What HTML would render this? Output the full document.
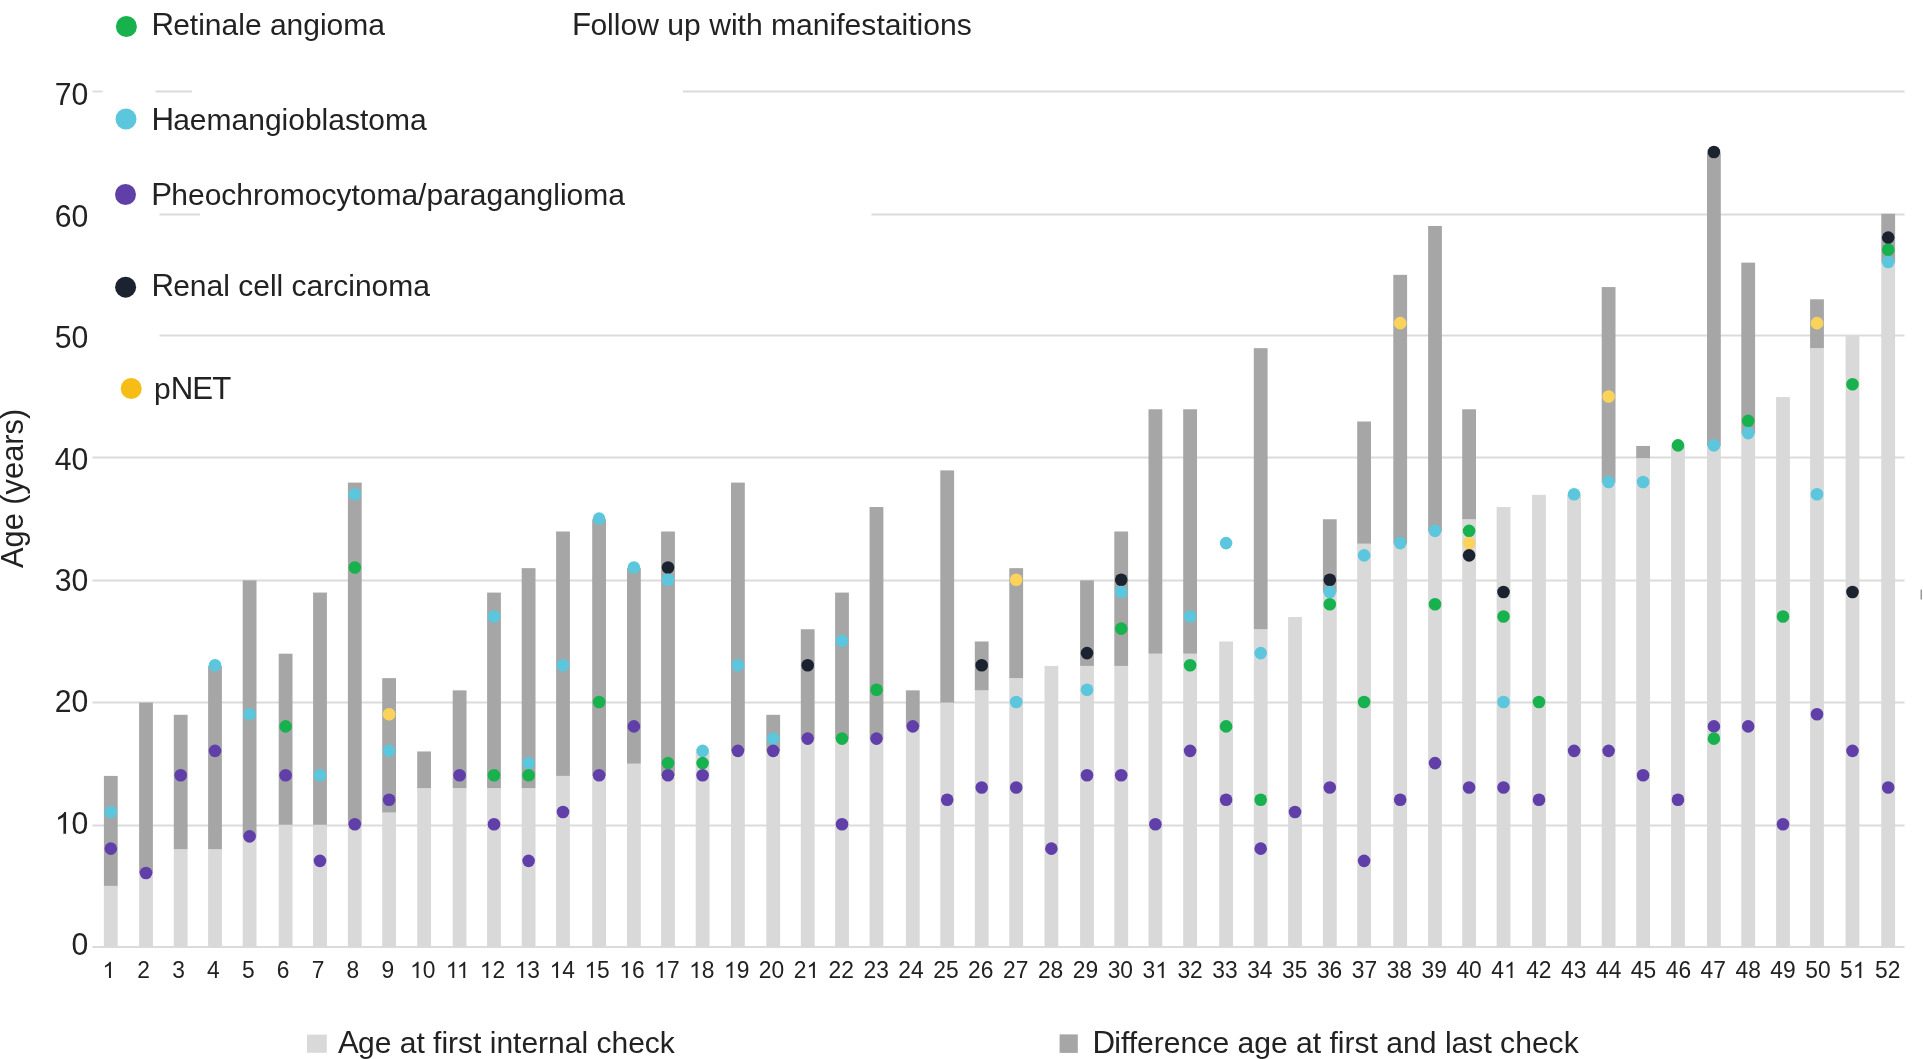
<!DOCTYPE html><html><head><meta charset="utf-8"><title>Follow up with manifestaitions</title><style>html,body{margin:0;padding:0;background:#fff;overflow:hidden;}svg{display:block;will-change:transform;}text{font-family:"Liberation Sans",sans-serif;fill:#222;}</style></head><body>
<svg width="1923" height="1059" viewBox="0 0 1923 1059">
<rect width="1923" height="1059" fill="#fff"/>
<g stroke="#dbdbdb" stroke-width="1.8"><line x1="92.5" y1="947.00" x2="1904.5" y2="947.00"/><line x1="92.5" y1="825.50" x2="1904.5" y2="825.50"/><line x1="92.5" y1="702.50" x2="1904.5" y2="702.50"/><line x1="92.5" y1="580.50" x2="1904.5" y2="580.50"/><line x1="92.5" y1="457.50" x2="1904.5" y2="457.50"/><line x1="159.5" y1="335.50" x2="1904.5" y2="335.50"/><line x1="159.5" y1="214.50" x2="200" y2="214.50"/><line x1="871.5" y1="214.50" x2="1904.5" y2="214.50"/><line x1="92.5" y1="91.50" x2="102.5" y2="91.50"/><line x1="155.5" y1="91.50" x2="192" y2="91.50"/><line x1="683" y1="91.50" x2="1904.5" y2="91.50"/></g>
<rect x="103.90" y="885.89" width="13.8" height="61.11" fill="#d9d9d9"/><rect x="103.90" y="775.91" width="13.8" height="109.99" fill="#a6a6a6"/><rect x="139.10" y="873.67" width="13.8" height="73.33" fill="#d9d9d9"/><rect x="139.10" y="702.58" width="13.8" height="171.09" fill="#a6a6a6"/><rect x="173.80" y="849.23" width="13.8" height="97.77" fill="#d9d9d9"/><rect x="173.80" y="714.80" width="13.8" height="134.43" fill="#a6a6a6"/><rect x="208.10" y="849.23" width="13.8" height="97.77" fill="#d9d9d9"/><rect x="208.10" y="665.92" width="13.8" height="183.32" fill="#a6a6a6"/><rect x="242.70" y="837.01" width="13.8" height="109.99" fill="#d9d9d9"/><rect x="242.70" y="580.37" width="13.8" height="256.64" fill="#a6a6a6"/><rect x="278.70" y="824.79" width="13.8" height="122.21" fill="#d9d9d9"/><rect x="278.70" y="653.70" width="13.8" height="171.09" fill="#a6a6a6"/><rect x="313.10" y="824.79" width="13.8" height="122.21" fill="#d9d9d9"/><rect x="313.10" y="592.59" width="13.8" height="232.20" fill="#a6a6a6"/><rect x="347.90" y="824.79" width="13.8" height="122.21" fill="#d9d9d9"/><rect x="347.90" y="482.60" width="13.8" height="342.19" fill="#a6a6a6"/><rect x="382.20" y="812.57" width="13.8" height="134.43" fill="#d9d9d9"/><rect x="382.20" y="678.14" width="13.8" height="134.43" fill="#a6a6a6"/><rect x="417.20" y="788.13" width="13.8" height="158.87" fill="#d9d9d9"/><rect x="417.20" y="751.46" width="13.8" height="36.66" fill="#a6a6a6"/><rect x="452.70" y="788.13" width="13.8" height="158.87" fill="#d9d9d9"/><rect x="452.70" y="690.36" width="13.8" height="97.77" fill="#a6a6a6"/><rect x="487.10" y="788.13" width="13.8" height="158.87" fill="#d9d9d9"/><rect x="487.10" y="592.59" width="13.8" height="195.54" fill="#a6a6a6"/><rect x="521.70" y="788.13" width="13.8" height="158.87" fill="#d9d9d9"/><rect x="521.70" y="568.15" width="13.8" height="219.98" fill="#a6a6a6"/><rect x="556.10" y="775.91" width="13.8" height="171.09" fill="#d9d9d9"/><rect x="556.10" y="531.49" width="13.8" height="244.42" fill="#a6a6a6"/><rect x="592.20" y="775.91" width="13.8" height="171.09" fill="#d9d9d9"/><rect x="592.20" y="519.26" width="13.8" height="256.64" fill="#a6a6a6"/><rect x="627.00" y="763.68" width="13.8" height="183.32" fill="#d9d9d9"/><rect x="627.00" y="568.15" width="13.8" height="195.54" fill="#a6a6a6"/><rect x="661.10" y="775.91" width="13.8" height="171.09" fill="#d9d9d9"/><rect x="661.10" y="531.49" width="13.8" height="244.42" fill="#a6a6a6"/><rect x="695.70" y="751.46" width="13.8" height="195.54" fill="#d9d9d9"/><rect x="731.00" y="751.46" width="13.8" height="195.54" fill="#d9d9d9"/><rect x="731.00" y="482.60" width="13.8" height="268.86" fill="#a6a6a6"/><rect x="766.30" y="751.46" width="13.8" height="195.54" fill="#d9d9d9"/><rect x="766.30" y="714.80" width="13.8" height="36.66" fill="#a6a6a6"/><rect x="800.80" y="739.24" width="13.8" height="207.76" fill="#d9d9d9"/><rect x="800.80" y="629.25" width="13.8" height="109.99" fill="#a6a6a6"/><rect x="835.10" y="739.24" width="13.8" height="207.76" fill="#d9d9d9"/><rect x="835.10" y="592.59" width="13.8" height="146.65" fill="#a6a6a6"/><rect x="869.60" y="739.24" width="13.8" height="207.76" fill="#d9d9d9"/><rect x="869.60" y="507.04" width="13.8" height="232.20" fill="#a6a6a6"/><rect x="905.90" y="727.02" width="13.8" height="219.98" fill="#d9d9d9"/><rect x="905.90" y="690.36" width="13.8" height="36.66" fill="#a6a6a6"/><rect x="940.30" y="702.58" width="13.8" height="244.42" fill="#d9d9d9"/><rect x="940.30" y="470.38" width="13.8" height="232.20" fill="#a6a6a6"/><rect x="974.80" y="690.36" width="13.8" height="256.64" fill="#d9d9d9"/><rect x="974.80" y="641.48" width="13.8" height="48.88" fill="#a6a6a6"/><rect x="1009.30" y="678.14" width="13.8" height="268.86" fill="#d9d9d9"/><rect x="1009.30" y="568.15" width="13.8" height="109.99" fill="#a6a6a6"/><rect x="1044.50" y="665.92" width="13.8" height="281.08" fill="#d9d9d9"/><rect x="1080.10" y="665.92" width="13.8" height="281.08" fill="#d9d9d9"/><rect x="1080.10" y="580.37" width="13.8" height="85.55" fill="#a6a6a6"/><rect x="1114.30" y="665.92" width="13.8" height="281.08" fill="#d9d9d9"/><rect x="1114.30" y="531.49" width="13.8" height="134.43" fill="#a6a6a6"/><rect x="1148.50" y="653.70" width="13.8" height="293.30" fill="#d9d9d9"/><rect x="1148.50" y="409.28" width="13.8" height="244.42" fill="#a6a6a6"/><rect x="1183.20" y="653.70" width="13.8" height="293.30" fill="#d9d9d9"/><rect x="1183.20" y="409.28" width="13.8" height="244.42" fill="#a6a6a6"/><rect x="1219.20" y="641.48" width="13.8" height="305.52" fill="#d9d9d9"/><rect x="1253.80" y="629.25" width="13.8" height="317.75" fill="#d9d9d9"/><rect x="1253.80" y="348.17" width="13.8" height="281.08" fill="#a6a6a6"/><rect x="1288.10" y="617.03" width="13.8" height="329.97" fill="#d9d9d9"/><rect x="1322.90" y="592.59" width="13.8" height="354.41" fill="#d9d9d9"/><rect x="1322.90" y="519.26" width="13.8" height="73.33" fill="#a6a6a6"/><rect x="1357.20" y="543.71" width="13.8" height="403.29" fill="#d9d9d9"/><rect x="1357.20" y="421.50" width="13.8" height="122.21" fill="#a6a6a6"/><rect x="1393.30" y="543.71" width="13.8" height="403.29" fill="#d9d9d9"/><rect x="1393.30" y="274.85" width="13.8" height="268.86" fill="#a6a6a6"/><rect x="1428.10" y="531.49" width="13.8" height="415.51" fill="#d9d9d9"/><rect x="1428.10" y="225.96" width="13.8" height="305.52" fill="#a6a6a6"/><rect x="1462.20" y="519.26" width="13.8" height="427.74" fill="#d9d9d9"/><rect x="1462.20" y="409.28" width="13.8" height="109.99" fill="#a6a6a6"/><rect x="1496.60" y="507.04" width="13.8" height="439.96" fill="#d9d9d9"/><rect x="1532.10" y="494.82" width="13.8" height="452.18" fill="#d9d9d9"/><rect x="1567.20" y="494.82" width="13.8" height="452.18" fill="#d9d9d9"/><rect x="1601.70" y="482.60" width="13.8" height="464.40" fill="#d9d9d9"/><rect x="1601.70" y="287.07" width="13.8" height="195.54" fill="#a6a6a6"/><rect x="1636.20" y="458.16" width="13.8" height="488.84" fill="#d9d9d9"/><rect x="1636.20" y="445.94" width="13.8" height="12.22" fill="#a6a6a6"/><rect x="1671.10" y="445.94" width="13.8" height="501.06" fill="#d9d9d9"/><rect x="1707.00" y="445.94" width="13.8" height="501.06" fill="#d9d9d9"/><rect x="1707.00" y="152.63" width="13.8" height="293.30" fill="#a6a6a6"/><rect x="1741.30" y="433.72" width="13.8" height="513.28" fill="#d9d9d9"/><rect x="1741.30" y="262.62" width="13.8" height="171.09" fill="#a6a6a6"/><rect x="1776.10" y="397.05" width="13.8" height="549.95" fill="#d9d9d9"/><rect x="1810.10" y="348.17" width="13.8" height="598.83" fill="#d9d9d9"/><rect x="1810.10" y="299.29" width="13.8" height="48.88" fill="#a6a6a6"/><rect x="1845.60" y="335.95" width="13.8" height="611.05" fill="#d9d9d9"/><rect x="1881.30" y="262.62" width="13.8" height="684.38" fill="#d9d9d9"/><rect x="1881.30" y="213.74" width="13.8" height="48.88" fill="#a6a6a6"/>
<circle cx="110.80" cy="811.97" r="6.3" fill="#5cc7dc"/><circle cx="110.80" cy="848.63" r="6.3" fill="#603fa8"/><circle cx="146.00" cy="873.07" r="6.3" fill="#603fa8"/><circle cx="180.70" cy="775.31" r="6.3" fill="#603fa8"/><circle cx="215.00" cy="665.32" r="6.3" fill="#5cc7dc"/><circle cx="215.00" cy="750.86" r="6.3" fill="#603fa8"/><circle cx="249.60" cy="714.20" r="6.3" fill="#5cc7dc"/><circle cx="249.60" cy="836.41" r="6.3" fill="#603fa8"/><circle cx="285.60" cy="726.42" r="6.3" fill="#17b24d"/><circle cx="285.60" cy="775.31" r="6.3" fill="#603fa8"/><circle cx="320.00" cy="775.31" r="6.3" fill="#5cc7dc"/><circle cx="320.00" cy="860.85" r="6.3" fill="#603fa8"/><circle cx="354.80" cy="494.22" r="6.3" fill="#5cc7dc"/><circle cx="354.80" cy="567.55" r="6.3" fill="#17b24d"/><circle cx="354.80" cy="824.19" r="6.3" fill="#603fa8"/><circle cx="389.10" cy="714.20" r="6.3" fill="#fcd35a"/><circle cx="389.10" cy="750.86" r="6.3" fill="#5cc7dc"/><circle cx="389.10" cy="799.75" r="6.3" fill="#603fa8"/><circle cx="459.60" cy="775.31" r="6.3" fill="#603fa8"/><circle cx="494.00" cy="616.43" r="6.3" fill="#5cc7dc"/><circle cx="494.00" cy="775.31" r="6.3" fill="#17b24d"/><circle cx="494.00" cy="824.19" r="6.3" fill="#603fa8"/><circle cx="528.60" cy="763.08" r="6.3" fill="#5cc7dc"/><circle cx="528.60" cy="775.31" r="6.3" fill="#17b24d"/><circle cx="528.60" cy="860.85" r="6.3" fill="#603fa8"/><circle cx="563.00" cy="665.32" r="6.3" fill="#5cc7dc"/><circle cx="563.00" cy="811.97" r="6.3" fill="#603fa8"/><circle cx="599.10" cy="518.66" r="6.3" fill="#5cc7dc"/><circle cx="599.10" cy="701.98" r="6.3" fill="#17b24d"/><circle cx="599.10" cy="775.31" r="6.3" fill="#603fa8"/><circle cx="633.90" cy="567.55" r="6.3" fill="#5cc7dc"/><circle cx="633.90" cy="726.42" r="6.3" fill="#603fa8"/><circle cx="668.00" cy="567.55" r="6.3" fill="#1b2230"/><circle cx="668.00" cy="579.77" r="6.3" fill="#5cc7dc"/><circle cx="668.00" cy="763.08" r="6.3" fill="#17b24d"/><circle cx="668.00" cy="775.31" r="6.3" fill="#603fa8"/><circle cx="702.60" cy="750.86" r="6.3" fill="#5cc7dc"/><circle cx="702.60" cy="763.08" r="6.3" fill="#17b24d"/><circle cx="702.60" cy="775.31" r="6.3" fill="#603fa8"/><circle cx="737.90" cy="665.32" r="6.3" fill="#5cc7dc"/><circle cx="737.90" cy="750.86" r="6.3" fill="#603fa8"/><circle cx="773.20" cy="738.64" r="6.3" fill="#5cc7dc"/><circle cx="773.20" cy="750.86" r="6.3" fill="#603fa8"/><circle cx="807.70" cy="665.32" r="6.3" fill="#1b2230"/><circle cx="807.70" cy="738.64" r="6.3" fill="#603fa8"/><circle cx="842.00" cy="640.88" r="6.3" fill="#5cc7dc"/><circle cx="842.00" cy="738.64" r="6.3" fill="#17b24d"/><circle cx="842.00" cy="824.19" r="6.3" fill="#603fa8"/><circle cx="876.50" cy="689.76" r="6.3" fill="#17b24d"/><circle cx="876.50" cy="738.64" r="6.3" fill="#603fa8"/><circle cx="912.80" cy="726.42" r="6.3" fill="#603fa8"/><circle cx="947.20" cy="799.75" r="6.3" fill="#603fa8"/><circle cx="981.70" cy="665.32" r="6.3" fill="#1b2230"/><circle cx="981.70" cy="787.53" r="6.3" fill="#603fa8"/><circle cx="1016.20" cy="579.77" r="6.3" fill="#fcd35a"/><circle cx="1016.20" cy="701.98" r="6.3" fill="#5cc7dc"/><circle cx="1016.20" cy="787.53" r="6.3" fill="#603fa8"/><circle cx="1051.40" cy="848.63" r="6.3" fill="#603fa8"/><circle cx="1087.00" cy="653.10" r="6.3" fill="#1b2230"/><circle cx="1087.00" cy="689.76" r="6.3" fill="#5cc7dc"/><circle cx="1087.00" cy="775.31" r="6.3" fill="#603fa8"/><circle cx="1121.20" cy="579.77" r="6.3" fill="#1b2230"/><circle cx="1121.20" cy="591.99" r="6.3" fill="#5cc7dc"/><circle cx="1121.20" cy="628.65" r="6.3" fill="#17b24d"/><circle cx="1121.20" cy="775.31" r="6.3" fill="#603fa8"/><circle cx="1155.40" cy="824.19" r="6.3" fill="#603fa8"/><circle cx="1190.10" cy="616.43" r="6.3" fill="#5cc7dc"/><circle cx="1190.10" cy="665.32" r="6.3" fill="#17b24d"/><circle cx="1190.10" cy="750.86" r="6.3" fill="#603fa8"/><circle cx="1226.10" cy="543.11" r="6.3" fill="#5cc7dc"/><circle cx="1226.10" cy="726.42" r="6.3" fill="#17b24d"/><circle cx="1226.10" cy="799.75" r="6.3" fill="#603fa8"/><circle cx="1260.70" cy="653.10" r="6.3" fill="#5cc7dc"/><circle cx="1260.70" cy="799.75" r="6.3" fill="#17b24d"/><circle cx="1260.70" cy="848.63" r="6.3" fill="#603fa8"/><circle cx="1295.00" cy="811.97" r="6.3" fill="#603fa8"/><circle cx="1329.80" cy="579.77" r="6.3" fill="#1b2230"/><circle cx="1329.80" cy="591.99" r="6.3" fill="#5cc7dc"/><circle cx="1329.80" cy="604.21" r="6.3" fill="#17b24d"/><circle cx="1329.80" cy="787.53" r="6.3" fill="#603fa8"/><circle cx="1364.10" cy="555.33" r="6.3" fill="#5cc7dc"/><circle cx="1364.10" cy="701.98" r="6.3" fill="#17b24d"/><circle cx="1364.10" cy="860.85" r="6.3" fill="#603fa8"/><circle cx="1400.20" cy="323.13" r="6.3" fill="#fcd35a"/><circle cx="1400.20" cy="543.11" r="6.3" fill="#5cc7dc"/><circle cx="1400.20" cy="799.75" r="6.3" fill="#603fa8"/><circle cx="1435.00" cy="530.89" r="6.3" fill="#5cc7dc"/><circle cx="1435.00" cy="604.21" r="6.3" fill="#17b24d"/><circle cx="1435.00" cy="763.08" r="6.3" fill="#603fa8"/><circle cx="1469.10" cy="530.89" r="6.3" fill="#17b24d"/><circle cx="1469.10" cy="543.11" r="6.3" fill="#fcd35a"/><circle cx="1469.10" cy="555.33" r="6.3" fill="#1b2230"/><circle cx="1469.10" cy="787.53" r="6.3" fill="#603fa8"/><circle cx="1503.50" cy="591.99" r="6.3" fill="#1b2230"/><circle cx="1503.50" cy="616.43" r="6.3" fill="#17b24d"/><circle cx="1503.50" cy="701.98" r="6.3" fill="#5cc7dc"/><circle cx="1503.50" cy="787.53" r="6.3" fill="#603fa8"/><circle cx="1539.00" cy="701.98" r="6.3" fill="#17b24d"/><circle cx="1539.00" cy="799.75" r="6.3" fill="#603fa8"/><circle cx="1574.10" cy="494.22" r="6.3" fill="#5cc7dc"/><circle cx="1574.10" cy="750.86" r="6.3" fill="#603fa8"/><circle cx="1608.60" cy="396.45" r="6.3" fill="#fcd35a"/><circle cx="1608.60" cy="482.00" r="6.3" fill="#5cc7dc"/><circle cx="1608.60" cy="750.86" r="6.3" fill="#603fa8"/><circle cx="1643.10" cy="482.00" r="6.3" fill="#5cc7dc"/><circle cx="1643.10" cy="775.31" r="6.3" fill="#603fa8"/><circle cx="1678.00" cy="445.34" r="6.3" fill="#17b24d"/><circle cx="1678.00" cy="799.75" r="6.3" fill="#603fa8"/><circle cx="1713.90" cy="152.03" r="6.3" fill="#1b2230"/><circle cx="1713.90" cy="445.34" r="6.3" fill="#5cc7dc"/><circle cx="1713.90" cy="726.42" r="6.3" fill="#603fa8"/><circle cx="1713.90" cy="738.64" r="6.3" fill="#17b24d"/><circle cx="1748.20" cy="420.90" r="6.3" fill="#17b24d"/><circle cx="1748.20" cy="433.12" r="6.3" fill="#5cc7dc"/><circle cx="1748.20" cy="726.42" r="6.3" fill="#603fa8"/><circle cx="1783.00" cy="616.43" r="6.3" fill="#17b24d"/><circle cx="1783.00" cy="824.19" r="6.3" fill="#603fa8"/><circle cx="1817.00" cy="323.13" r="6.3" fill="#fcd35a"/><circle cx="1817.00" cy="494.22" r="6.3" fill="#5cc7dc"/><circle cx="1817.00" cy="714.20" r="6.3" fill="#603fa8"/><circle cx="1852.50" cy="384.23" r="6.3" fill="#17b24d"/><circle cx="1852.50" cy="591.99" r="6.3" fill="#1b2230"/><circle cx="1852.50" cy="750.86" r="6.3" fill="#603fa8"/><circle cx="1888.20" cy="237.58" r="6.3" fill="#1b2230"/><circle cx="1888.20" cy="249.80" r="6.3" fill="#17b24d"/><circle cx="1888.20" cy="262.02" r="6.3" fill="#5cc7dc"/><circle cx="1888.20" cy="787.53" r="6.3" fill="#603fa8"/>
<path d="M763,0L583,0L583,1147Q518,1085 412.5,1023Q307,961 223,930L223,1104Q374,1175 485.5,1272Q597,1369 647,1466L763,1466Z" transform="translate(102.46,978.00) scale(0.01113,-0.01113)" fill="#222"/><text transform="translate(143.68,978.00) scale(1,1.04)" font-size="22.8" text-anchor="middle">2</text><text transform="translate(178.56,978.00) scale(1,1.04)" font-size="22.8" text-anchor="middle">3</text><text transform="translate(213.44,978.00) scale(1,1.04)" font-size="22.8" text-anchor="middle">4</text><text transform="translate(248.32,978.00) scale(1,1.04)" font-size="22.8" text-anchor="middle">5</text><text transform="translate(283.20,978.00) scale(1,1.04)" font-size="22.8" text-anchor="middle">6</text><text transform="translate(318.08,978.00) scale(1,1.04)" font-size="22.8" text-anchor="middle">7</text><text transform="translate(352.96,978.00) scale(1,1.04)" font-size="22.8" text-anchor="middle">8</text><text transform="translate(387.84,978.00) scale(1,1.04)" font-size="22.8" text-anchor="middle">9</text><path d="M763,0L583,0L583,1147Q518,1085 412.5,1023Q307,961 223,930L223,1104Q374,1175 485.5,1272Q597,1369 647,1466L763,1466Z" transform="translate(410.04,978.00) scale(0.01113,-0.01113)" fill="#222"/><text transform="translate(422.72,978.00) scale(1,1.04)" font-size="22.8">0</text><path d="M763,0L583,0L583,1147Q518,1085 412.5,1023Q307,961 223,930L223,1104Q374,1175 485.5,1272Q597,1369 647,1466L763,1466Z" transform="translate(445.77,978.00) scale(0.01113,-0.01113)" fill="#222"/><path d="M763,0L583,0L583,1147Q518,1085 412.5,1023Q307,961 223,930L223,1104Q374,1175 485.5,1272Q597,1369 647,1466L763,1466Z" transform="translate(456.75,978.00) scale(0.01113,-0.01113)" fill="#222"/><path d="M763,0L583,0L583,1147Q518,1085 412.5,1023Q307,961 223,930L223,1104Q374,1175 485.5,1272Q597,1369 647,1466L763,1466Z" transform="translate(479.80,978.00) scale(0.01113,-0.01113)" fill="#222"/><text transform="translate(492.48,978.00) scale(1,1.04)" font-size="22.8">2</text><path d="M763,0L583,0L583,1147Q518,1085 412.5,1023Q307,961 223,930L223,1104Q374,1175 485.5,1272Q597,1369 647,1466L763,1466Z" transform="translate(514.68,978.00) scale(0.01113,-0.01113)" fill="#222"/><text transform="translate(527.36,978.00) scale(1,1.04)" font-size="22.8">3</text><path d="M763,0L583,0L583,1147Q518,1085 412.5,1023Q307,961 223,930L223,1104Q374,1175 485.5,1272Q597,1369 647,1466L763,1466Z" transform="translate(549.56,978.00) scale(0.01113,-0.01113)" fill="#222"/><text transform="translate(562.24,978.00) scale(1,1.04)" font-size="22.8">4</text><path d="M763,0L583,0L583,1147Q518,1085 412.5,1023Q307,961 223,930L223,1104Q374,1175 485.5,1272Q597,1369 647,1466L763,1466Z" transform="translate(584.44,978.00) scale(0.01113,-0.01113)" fill="#222"/><text transform="translate(597.12,978.00) scale(1,1.04)" font-size="22.8">5</text><path d="M763,0L583,0L583,1147Q518,1085 412.5,1023Q307,961 223,930L223,1104Q374,1175 485.5,1272Q597,1369 647,1466L763,1466Z" transform="translate(619.32,978.00) scale(0.01113,-0.01113)" fill="#222"/><text transform="translate(632.00,978.00) scale(1,1.04)" font-size="22.8">6</text><path d="M763,0L583,0L583,1147Q518,1085 412.5,1023Q307,961 223,930L223,1104Q374,1175 485.5,1272Q597,1369 647,1466L763,1466Z" transform="translate(654.20,978.00) scale(0.01113,-0.01113)" fill="#222"/><text transform="translate(666.88,978.00) scale(1,1.04)" font-size="22.8">7</text><path d="M763,0L583,0L583,1147Q518,1085 412.5,1023Q307,961 223,930L223,1104Q374,1175 485.5,1272Q597,1369 647,1466L763,1466Z" transform="translate(689.08,978.00) scale(0.01113,-0.01113)" fill="#222"/><text transform="translate(701.76,978.00) scale(1,1.04)" font-size="22.8">8</text><path d="M763,0L583,0L583,1147Q518,1085 412.5,1023Q307,961 223,930L223,1104Q374,1175 485.5,1272Q597,1369 647,1466L763,1466Z" transform="translate(723.96,978.00) scale(0.01113,-0.01113)" fill="#222"/><text transform="translate(736.64,978.00) scale(1,1.04)" font-size="22.8">9</text><text transform="translate(771.52,978.00) scale(1,1.04)" font-size="22.8" text-anchor="middle">20</text><text transform="translate(793.72,978.00) scale(1,1.04)" font-size="22.8">2</text><path d="M763,0L583,0L583,1147Q518,1085 412.5,1023Q307,961 223,930L223,1104Q374,1175 485.5,1272Q597,1369 647,1466L763,1466Z" transform="translate(806.40,978.00) scale(0.01113,-0.01113)" fill="#222"/><text transform="translate(841.28,978.00) scale(1,1.04)" font-size="22.8" text-anchor="middle">22</text><text transform="translate(876.16,978.00) scale(1,1.04)" font-size="22.8" text-anchor="middle">23</text><text transform="translate(911.04,978.00) scale(1,1.04)" font-size="22.8" text-anchor="middle">24</text><text transform="translate(945.92,978.00) scale(1,1.04)" font-size="22.8" text-anchor="middle">25</text><text transform="translate(980.80,978.00) scale(1,1.04)" font-size="22.8" text-anchor="middle">26</text><text transform="translate(1015.68,978.00) scale(1,1.04)" font-size="22.8" text-anchor="middle">27</text><text transform="translate(1050.56,978.00) scale(1,1.04)" font-size="22.8" text-anchor="middle">28</text><text transform="translate(1085.44,978.00) scale(1,1.04)" font-size="22.8" text-anchor="middle">29</text><text transform="translate(1120.32,978.00) scale(1,1.04)" font-size="22.8" text-anchor="middle">30</text><text transform="translate(1142.52,978.00) scale(1,1.04)" font-size="22.8">3</text><path d="M763,0L583,0L583,1147Q518,1085 412.5,1023Q307,961 223,930L223,1104Q374,1175 485.5,1272Q597,1369 647,1466L763,1466Z" transform="translate(1155.20,978.00) scale(0.01113,-0.01113)" fill="#222"/><text transform="translate(1190.08,978.00) scale(1,1.04)" font-size="22.8" text-anchor="middle">32</text><text transform="translate(1224.96,978.00) scale(1,1.04)" font-size="22.8" text-anchor="middle">33</text><text transform="translate(1259.84,978.00) scale(1,1.04)" font-size="22.8" text-anchor="middle">34</text><text transform="translate(1294.72,978.00) scale(1,1.04)" font-size="22.8" text-anchor="middle">35</text><text transform="translate(1329.60,978.00) scale(1,1.04)" font-size="22.8" text-anchor="middle">36</text><text transform="translate(1364.48,978.00) scale(1,1.04)" font-size="22.8" text-anchor="middle">37</text><text transform="translate(1399.36,978.00) scale(1,1.04)" font-size="22.8" text-anchor="middle">38</text><text transform="translate(1434.24,978.00) scale(1,1.04)" font-size="22.8" text-anchor="middle">39</text><text transform="translate(1469.12,978.00) scale(1,1.04)" font-size="22.8" text-anchor="middle">40</text><text transform="translate(1491.32,978.00) scale(1,1.04)" font-size="22.8">4</text><path d="M763,0L583,0L583,1147Q518,1085 412.5,1023Q307,961 223,930L223,1104Q374,1175 485.5,1272Q597,1369 647,1466L763,1466Z" transform="translate(1504.00,978.00) scale(0.01113,-0.01113)" fill="#222"/><text transform="translate(1538.88,978.00) scale(1,1.04)" font-size="22.8" text-anchor="middle">42</text><text transform="translate(1573.76,978.00) scale(1,1.04)" font-size="22.8" text-anchor="middle">43</text><text transform="translate(1608.64,978.00) scale(1,1.04)" font-size="22.8" text-anchor="middle">44</text><text transform="translate(1643.52,978.00) scale(1,1.04)" font-size="22.8" text-anchor="middle">45</text><text transform="translate(1678.40,978.00) scale(1,1.04)" font-size="22.8" text-anchor="middle">46</text><text transform="translate(1713.28,978.00) scale(1,1.04)" font-size="22.8" text-anchor="middle">47</text><text transform="translate(1748.16,978.00) scale(1,1.04)" font-size="22.8" text-anchor="middle">48</text><text transform="translate(1783.04,978.00) scale(1,1.04)" font-size="22.8" text-anchor="middle">49</text><text transform="translate(1817.92,978.00) scale(1,1.04)" font-size="22.8" text-anchor="middle">50</text><text transform="translate(1840.12,978.00) scale(1,1.04)" font-size="22.8">5</text><path d="M763,0L583,0L583,1147Q518,1085 412.5,1023Q307,961 223,930L223,1104Q374,1175 485.5,1272Q597,1369 647,1466L763,1466Z" transform="translate(1852.80,978.00) scale(0.01113,-0.01113)" fill="#222"/><text transform="translate(1887.68,978.00) scale(1,1.04)" font-size="22.8" text-anchor="middle">52</text>
<text transform="translate(88.40,955.00) scale(1,1.04)" font-size="30.2" text-anchor="end">0</text><path d="M763,0L583,0L583,1147Q518,1085 412.5,1023Q307,961 223,930L223,1104Q374,1175 485.5,1272Q597,1369 647,1466L763,1466Z" transform="translate(54.81,833.63) scale(0.01475,-0.01475)" fill="#222"/><text transform="translate(71.60,833.63) scale(1,1.04)" font-size="30.2">0</text><text transform="translate(88.40,712.26) scale(1,1.04)" font-size="30.2" text-anchor="end">20</text><text transform="translate(88.40,590.89) scale(1,1.04)" font-size="30.2" text-anchor="end">30</text><text transform="translate(88.40,469.52) scale(1,1.04)" font-size="30.2" text-anchor="end">40</text><text transform="translate(88.40,348.15) scale(1,1.04)" font-size="30.2" text-anchor="end">50</text><text transform="translate(88.40,226.78) scale(1,1.04)" font-size="30.2" text-anchor="end">60</text><text transform="translate(88.40,105.41) scale(1,1.04)" font-size="30.2" text-anchor="end">70</text>
<text transform="translate(23,488.4) rotate(-90)" font-size="30.8" text-anchor="middle">Age (years)</text>
<circle cx="126.4" cy="26.5" r="10.5" fill="#17b24d"/>
<text x="151.5" y="35" font-size="30"><tspan font-size="31.20">R</tspan><tspan dx="-0.87">etinale angioma</tspan></text>
<circle cx="126" cy="119" r="10.5" fill="#5cc7dc"/>
<text x="151.5" y="130" font-size="30"><tspan font-size="31.20">H</tspan><tspan dx="-0.87">aemangioblastoma</tspan></text>
<circle cx="125.5" cy="194.5" r="10.5" fill="#603fa8"/>
<text x="151.3" y="204.5" font-size="30"><tspan font-size="31.20">P</tspan><tspan dx="-0.80">heochromocytoma/paraganglioma</tspan></text>
<circle cx="125.6" cy="287.2" r="10.5" fill="#1b2230"/>
<text x="151.5" y="295.5" font-size="30"><tspan font-size="31.20">R</tspan><tspan dx="-0.87">enal cell carcinoma</tspan></text>
<circle cx="131.2" cy="388.5" r="10.5" fill="#f7bd17"/>
<text x="154" y="398.5" font-size="30"><tspan>p</tspan><tspan font-size="31.20">N</tspan><tspan font-size="31.20" dx="-0.87">E</tspan><tspan font-size="31.20" dx="-0.80">T</tspan></text>
<text x="572" y="35" font-size="30.1"><tspan font-size="31.30">F</tspan><tspan dx="-0.74">ollow up with manifestaitions</tspan></text>
<rect x="307" y="1034.6" width="19.8" height="18.2" fill="#d9d9d9"/>
<text x="338" y="1052.8" font-size="30"><tspan font-size="31.20">A</tspan><tspan dx="-0.80">ge at first internal check</tspan></text>
<rect x="1059.6" y="1034.4" width="18.2" height="18.5" fill="#a6a6a6"/>
<text x="1092.5" y="1052.8" font-size="30.1"><tspan font-size="31.30">D</tspan><tspan dx="-0.87">ifference age at first and last check</tspan></text>
<rect x="1920.5" y="589.5" width="1.5" height="10" fill="#999"/>
</svg></body></html>
